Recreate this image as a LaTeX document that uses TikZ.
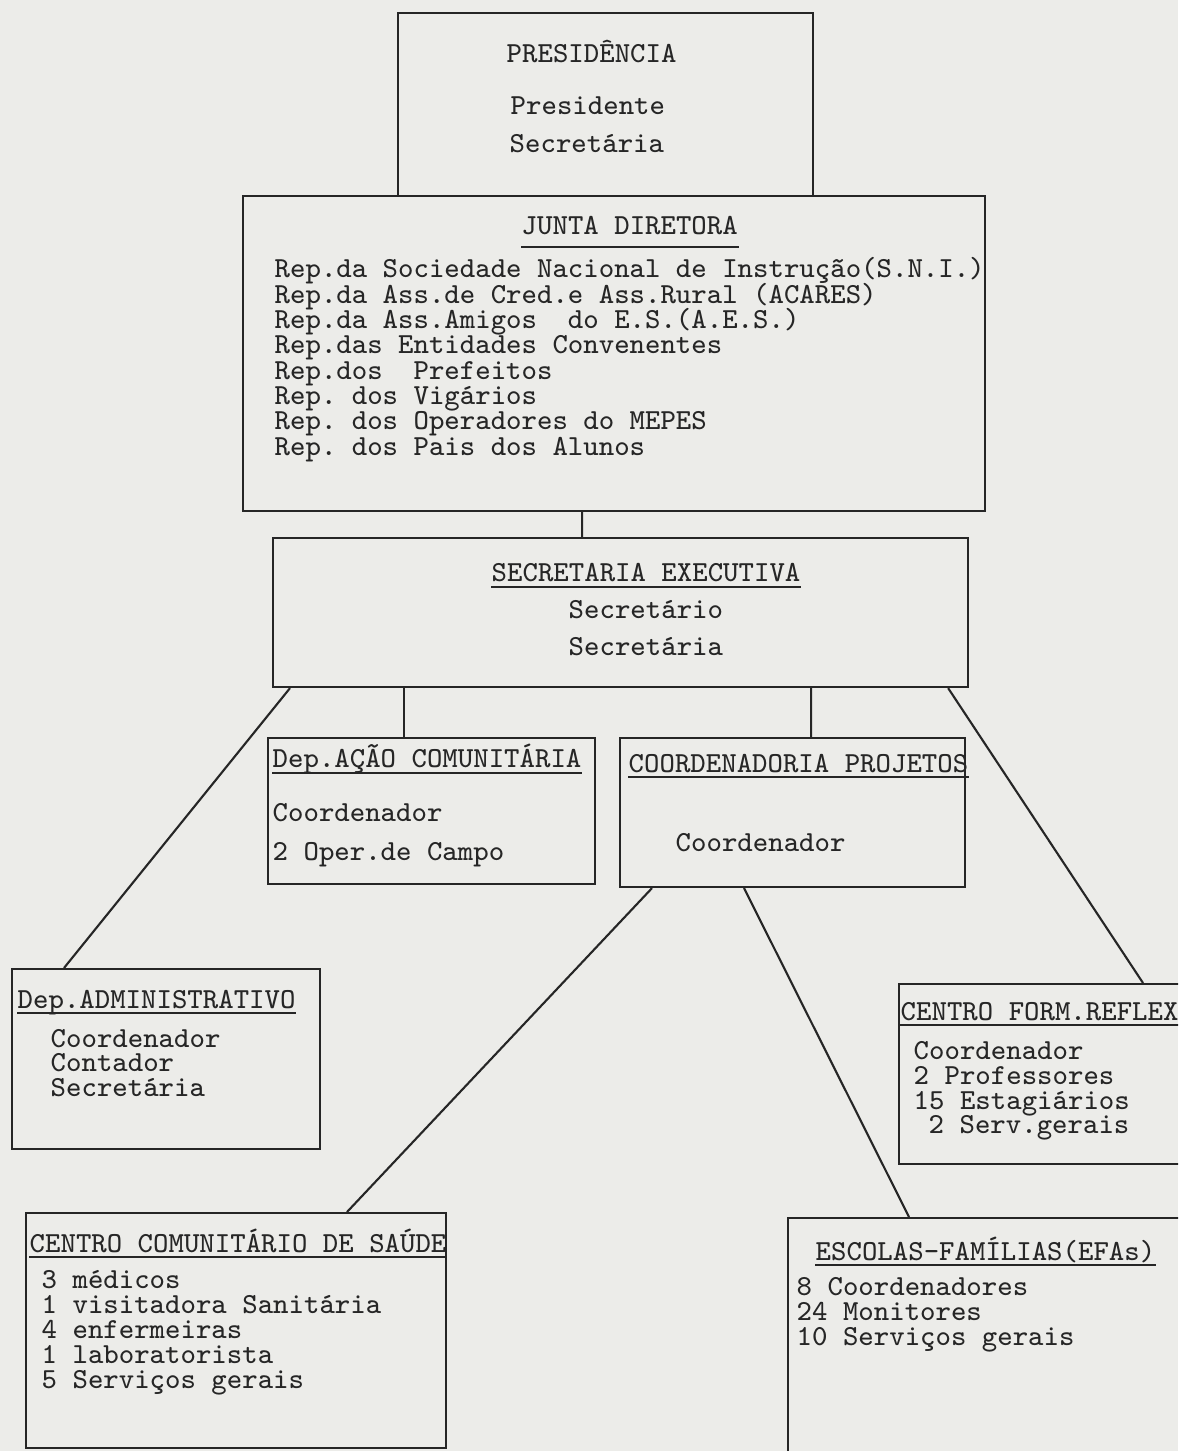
\documentclass[tikz,border=0pt]{standalone}
\usepackage{tikz}
\definecolor{paper}{RGB}{236,236,233}
\definecolor{ink}{RGB}{38,38,38}
\newcommand{\orgfont}{\fontsize{8.27}{9}\selectfont\ttfamily\frenchspacing}

\begin{document}
\begin{tikzpicture}[x=1mm,y=1mm,
  box/.style={draw=ink,line width=0.6pt,anchor=north west,inner sep=0pt},
  conn/.style={draw=ink,line width=0.6pt},
  txt/.style={anchor=base west,inner sep=0pt,text=ink,font=\orgfont},
  ttl/.style={txt,append after command={([yshift=-#1]\tikzlastnode.base west) edge[conn] ([yshift=-#1]\tikzlastnode.base east)}},
  ttl/.default=0.5mm]
\useasboundingbox (0,0) rectangle (117.8,-145.1);
\clip (0,0) rectangle (117.8,-145.1);
\fill[paper] (0,0) rectangle (117.8,-145.1);
\node[box,minimum width=41.5mm,minimum height=18.3mm] (pres) at (39.7,-1.2) {};
\node[box,minimum width=74.2mm,minimum height=31.5mm] (junta) at (24.2,-19.5) {};
\node[box,minimum width=69.5mm,minimum height=14.9mm] (sec) at (27.2,-53.7) {};
\node[box,minimum width=32.7mm,minimum height=14.6mm] (acao) at (26.7,-73.7) {};
\node[box,minimum width=34.5mm,minimum height=14.9mm] (proj) at (61.9,-73.7) {};
\node[box,minimum width=30.8mm,minimum height=18.0mm] (adm) at (1.1,-96.8) {};
\node[box,minimum width=30.0mm,minimum height=18.0mm] (form) at (89.8,-98.3) {};
\node[box,minimum width=42.0mm,minimum height=23.5mm] (saude) at (2.5,-121.2) {};
\node[box,minimum width=41.0mm,minimum height=26.0mm] (efa) at (78.7,-121.7) {};
\node[txt] (p1) at (50.6,-6.3) {PRESIDÊNCIA};
\node[txt] (p2) at (51.0,-11.5) {Presidente};
\node[txt] (p3) at (50.9,-15.3) {Secretária};
\node[ttl=1.2mm] (j0) at (52.1,-23.5) {JUNTA DIRETORA};
\node[txt] (j1) at (27.4,-27.8) {Rep.da Sociedade Nacional de Instrução(S.N.I.)};
\node[txt] (j2) at (27.4,-30.33) {Rep.da Ass.de Cred.e Ass.Rural (ACARES)};
\node[txt] (j3) at (27.4,-32.86) {Rep.da Ass.Amigos\ \ do E.S.(A.E.S.)};
\node[txt] (j4) at (27.4,-35.39) {Rep.das Entidades Convenentes};
\node[txt] (j5) at (27.4,-37.92) {Rep.dos\ \ Prefeitos};
\node[txt] (j6) at (27.4,-40.45) {Rep. dos Vigários};
\node[txt] (j7) at (27.4,-42.98) {Rep. dos Operadores do MEPES};
\node[txt] (j8) at (27.4,-45.51) {Rep. dos Pais dos Alunos};
\node[ttl] (s0) at (49.1,-58.2) {SECRETARIA EXECUTIVA};
\node[txt] (s1) at (56.8,-61.9) {Secretário};
\node[txt] (s2) at (56.8,-65.6) {Secretária};
\node[ttl] (a0) at (27.2,-76.8) {Dep.AÇÃO COMUNITÁRIA};
\node[txt] (a1) at (27.2,-82.1) {Coordenador};
\node[txt] (a2) at (27.2,-86.0) {2 Oper.de Campo};
\node[ttl] (c0) at (62.8,-77.2) {COORDENADORIA PROJETOS};
\node[txt] (c1) at (67.5,-85.1) {Coordenador};
\node[ttl] (d0) at (1.7,-100.8) {Dep.ADMINISTRATIVO};
\node[txt] (d1) at (5.0,-104.7) {Coordenador};
\node[txt] (d2) at (5.0,-107.1) {Contador};
\node[txt] (d3) at (5.0,-109.6) {Secretária};
\node[ttl] (f0) at (90.0,-102.0) {CENTRO FORM.REFLEX};
\node[txt] (f1) at (91.3,-105.9) {Coordenador};
\node[txt] (f2) at (91.3,-108.4) {2 Professores};
\node[txt] (f3) at (91.3,-110.9) {15 Estagiários};
\node[txt] (f4) at (92.8,-113.3) {2 Serv.gerais};
\node[ttl] (m0) at (2.9,-125.2) {CENTRO COMUNITÁRIO DE SAÚDE};
\node[txt] (m1) at (4.1,-128.8) {3 médicos};
\node[txt] (m2) at (4.1,-131.3) {1 visitadora Sanitária};
\node[txt] (m3) at (4.1,-133.8) {4 enfermeiras};
\node[txt] (m4) at (4.1,-136.3) {1 laboratorista};
\node[txt] (m5) at (4.1,-138.8) {5 Serviços gerais};
\node[ttl] (e0) at (81.5,-126.0) {ESCOLAS-FAMÍLIAS(EFAs)};
\node[txt] (e1) at (79.6,-129.5) {8 Coordenadores};
\node[txt] (e2) at (79.6,-132.0) {24 Monitores};
\node[txt] (e3) at (79.6,-134.5) {10 Serviços gerais};
\draw[conn] ([xshift=-3.2mm]junta.south) -- ([xshift=-3.85mm]sec.north);
\draw[conn] ([xshift=-21.65mm]sec.south) -- ([xshift=-2.75mm]acao.north);
\draw[conn] ([xshift=19.05mm]sec.south) -- ([xshift=1.85mm]proj.north);
\draw[conn] ([xshift=1.8mm]sec.south west) -- ([xshift=5.3mm]adm.north west);
\draw[conn] ([xshift=-2.1mm]sec.south east) -- ([xshift=24.5mm]form.north west);
\draw[conn] ([xshift=3.3mm]proj.south west) -- ([xshift=32.2mm]saude.north west);
\draw[conn] ([xshift=12.5mm]proj.south west) -- ([xshift=12.2mm]efa.north west);
\end{tikzpicture}
\end{document}
